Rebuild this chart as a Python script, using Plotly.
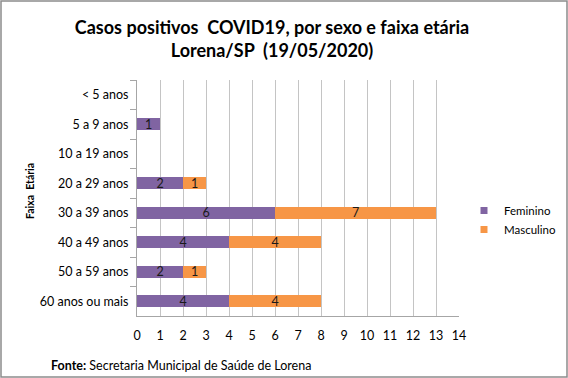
import plotly.graph_objects as go

categorias = ["< 5 anos", "5 a 9 anos", "10 a 19 anos", "20 a 29 anos",
              "30 a 39 anos", "40 a 49 anos", "50 a 59 anos", "60 anos ou mais"]
feminino = [0, 1, 0, 2, 6, 4, 2, 4]
masculino = [0, 0, 0, 1, 7, 4, 1, 4]
series_nomes = ["Feminino", "Masculino"]
cores = ["#8064A2", "#F79646"]
x_ticks = list(range(0, 15))

W, H = 568, 378
ml, mr, mt, mb = 137, 109, 80, 62
pw = W - ml - mr
ph = H - mt - mb

FONT = "Lato"

def labels(vals):
    return [str(v) if v > 0 else "" for v in vals]

fig = go.Figure()
for nome, vals, cor in zip(series_nomes, [feminino, masculino], cores):
    fig.add_trace(go.Bar(
        y=categorias, x=vals, orientation="h", name=nome,
        marker=dict(color=cor, line=dict(width=0)),
        text=labels(vals), textposition="inside", insidetextanchor="middle",
        textangle=0, textfont=dict(color="#1a1a1a", size=12.5, family=FONT),
        hoverinfo="x+y", showlegend=False))
for nome, cor in zip(series_nomes, cores):
    fig.add_trace(go.Scatter(
        x=[None], y=[None], mode="markers", name=nome,
        marker=dict(symbol="square", size=7, color=cor), showlegend=True))

fig.update_layout(
    width=W, height=H,
    margin=dict(l=ml, r=mr, t=mt, b=mb, autoexpand=False),
    barmode="stack", bargap=0.6,
    paper_bgcolor="white", plot_bgcolor="white",
    font=dict(family=FONT, size=12, color="#000000"),
    uniformtext=dict(minsize=8, mode="show"),
    title=dict(
        text="<b>Casos positivos  COVID19, por sexo e faixa etária</b><br><b>Lorena/SP  (19/05/2020)</b>",
        x=272 / W, xanchor="center", xref="container",
        y=1 - 34 / H, yanchor="middle", yref="container",
        font=dict(size=18, family=FONT, color="#000000")),
    legend=dict(
        xref="container", yref="container",
        x=464 / W, xanchor="left",
        y=1 - 220 / H, yanchor="middle",
        traceorder="normal",
        font=dict(size=11.5, family=FONT), itemwidth=30,
        tracegroupgap=6, bgcolor="rgba(0,0,0,0)"),
    showlegend=True,
)
fig.update_xaxes(
    range=[0, 14], tickvals=x_ticks, ticktext=[str(v) for v in x_ticks],
    showgrid=True, gridcolor="#C4C4C4", gridwidth=1,
    showline=True, linecolor="#A6A6A6", linewidth=1,
    ticks="", ticklabelstandoff=8,
    zeroline=False, tickfont=dict(size=12.5, family=FONT))
fig.update_yaxes(
    categoryorder="array", categoryarray=categorias, autorange="reversed",
    showgrid=False, showline=True, linecolor="#A6A6A6", linewidth=1,
    ticks="outside", ticklen=6, tickcolor="#A6A6A6", tickson="boundaries",
    ticklabelstandoff=5,
    tickfont=dict(size=12.5, family=FONT))

fig.add_annotation(
    text="<b>Faixa  Etária</b>", textangle=-90, showarrow=False,
    xref="paper", yref="paper", x=(30 - ml) / pw, y=(H - mb - 191) / ph,
    xanchor="center", yanchor="middle", font=dict(size=10.5, family=FONT))
fig.add_annotation(
    text="<b>Fonte:</b> Secretaria Municipal de Saúde de Lorena", showarrow=False,
    xref="paper", yref="paper", x=(49 - ml) / pw, y=(H - mb - 365) / ph,
    xanchor="left", yanchor="middle", font=dict(size=12.5, family=FONT))
fig.add_shape(
    type="rect", xref="paper", yref="paper",
    x0=(1 - ml) / pw, x1=(W - 1 - ml) / pw,
    y0=(H - mb - (H - 1)) / ph, y1=(H - mb - 1) / ph,
    line=dict(color="#8C8C8C", width=1.5), fillcolor="rgba(0,0,0,0)", layer="above")

fig.write_html(
    "out.html",
    config={"displayModeBar": False},
    post_script="document.body.style.margin='0';document.body.style.overflow='hidden';",
)
